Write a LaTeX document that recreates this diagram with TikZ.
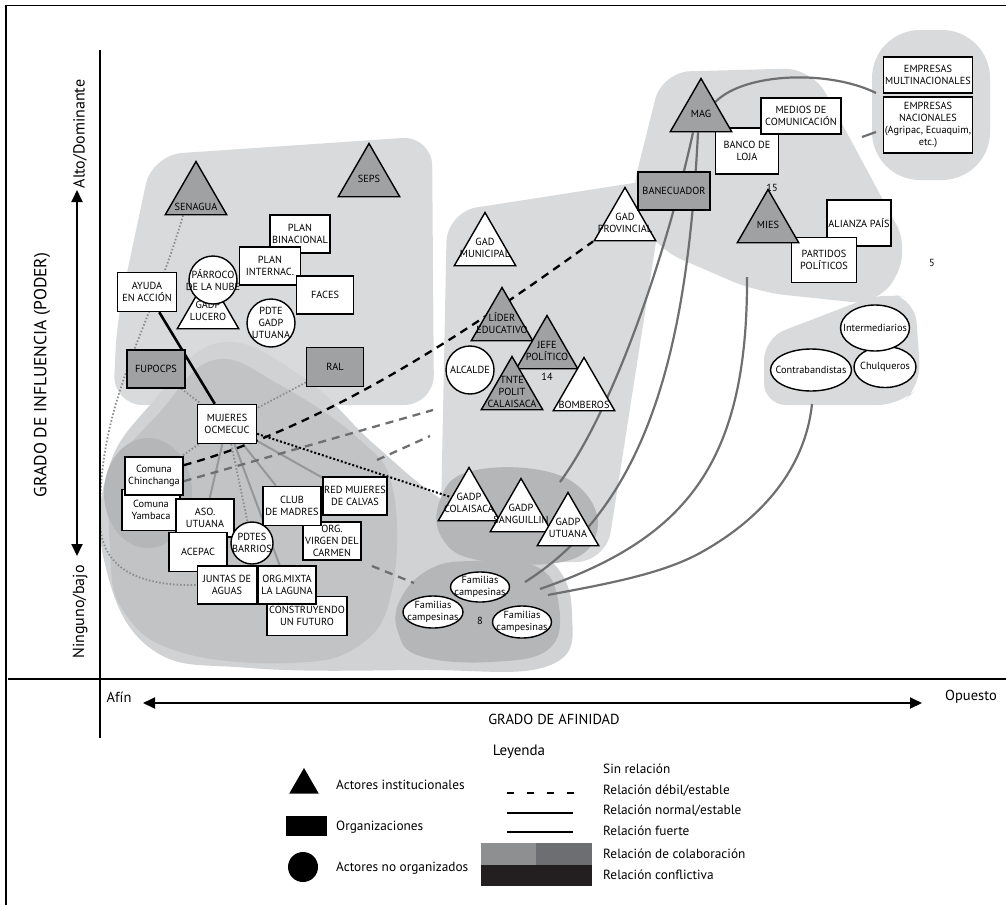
\documentclass[tikz,border=0pt]{standalone}
\usepackage{fontspec}
\setmainfont{PT Sans}
\usetikzlibrary{shapes.geometric, arrows.meta}
\definecolor{blobgray}{RGB}{217,218,219}
\definecolor{bandgray}{RGB}{209,210,212}
\definecolor{midgray}{RGB}{194,195,197}
\definecolor{darkblob}{RGB}{181,182,184}
\definecolor{actgray}{RGB}{160,161,163}
\definecolor{linegray}{RGB}{110,111,113}
\definecolor{softline}{RGB}{150,151,153}
\definecolor{dotgray}{RGB}{138,139,141}
\definecolor{colabA}{RGB}{142,143,145}
\definecolor{colabB}{RGB}{109,110,113}
\definecolor{conflict}{RGB}{35,31,32}
\pgfdeclarelayer{blobs}
\pgfdeclarelayer{links}
\pgfsetlayers{blobs,links,main}
\newcommand{\nodefont}{\fontsize{10.3}{11.7}\selectfont}
\tikzset{
  lab/.style={align=center, inner sep=0pt, font=\nodefont},
  org/.style={draw, line width=1.4pt, fill=white, align=center, inner sep=1pt, font=\nodefont, minimum width=58pt, minimum height=38pt},
  orgd/.style={org, fill=actgray},
  tri/.style={regular polygon, regular polygon sides=3, draw, line width=1.4pt, fill=white, inner sep=0pt, minimum size=71pt, label={[lab]center:#1}},
  trid/.style={tri={#1}, fill=actgray},
  ind/.style={circle, draw, line width=1.4pt, fill=white, inner sep=0pt, minimum size=48pt, label={[lab]center:#1}},
  fam/.style={ellipse, draw, line width=1.4pt, fill=white, inner sep=0pt, label={[lab]center:#1}},
  legtext/.style={anchor=west, inner sep=0pt, font=\fontsize{13.3}{16}\selectfont},
  fuerte/.style={line width=2.6pt},
  normal/.style={line width=2.2pt, linegray},
  suave/.style={line width=2pt, softline},
  debil/.style={line width=2.3pt, dash pattern=on 8pt off 6pt},
  sinrel/.style={line width=1.8pt, dotgray, dash pattern=on 1.5pt off 2pt},
  sinreln/.style={line width=2pt, dash pattern=on 2pt off 2pt},
}
\begin{document}
\begin{tikzpicture}[x=1pt, y=-1pt]
\useasboundingbox (0,0) rectangle (1006,905);

% top-left group
\node[trid={}, label={[lab,yshift=-10pt]center:SENAGUA}] (senagua) at (196,197) {};
\node[trid=SEPS] (seps) at (369,179) {};
\node[org, minimum width=60pt] (planbin) at (300,234) {PLAN\\BINACIONAL};
\node[org, minimum width=61pt] (planint) at (270,266) {PLAN\\INTERNAC.};
\node[org, minimum width=57pt] (faces) at (325,295) {FACES};
\node[org, minimum width=59pt, minimum height=39pt] (ayuda) at (147,292) {AYUDA\\EN ACCIÓN};
\node[tri={GADP\\LUCERO}] (lucero) at (208,311) {};
\node[ind={PÁRROCO\\DE LA NUBE}] (parroco) at (213,280) {};
\node[ind={PDTE\\GADP\\UTUANA}] (pdtegadp) at (271,323) {};
\node[orgd] (fupocps) at (156,369) {FUPOCPS};
\node[orgd, minimum width=57pt, minimum height=39pt] (ral) at (335,367) {RAL};

% lower-left group
\node[org, minimum width=59pt, minimum height=39pt] (mujeres) at (227,424) {MUJERES\\OCMECUC};
\node[org, minimum height=41pt] (yambaca) at (151,510) {Comuna\\Yambaca};
\node[org] (chinchanga) at (154,476) {Comuna\\Chinchanga};
\node[org] (asoutuana) at (205,518) {ASO.\\UTUANA};
\node[org, minimum height=39pt] (acepac) at (198,552) {ACEPAC};
\node[org, minimum width=80pt, minimum height=39pt] (construyendo) at (307,616) {CONSTRUYENDO\\UN FUTURO};
\node[org, minimum width=59pt] (juntas) at (227,585) {JUNTAS DE\\AGUAS};
\node[org] (orgmixta) at (287,585) {ORG.MIXTA\\LA LAGUNA};
\node[ind={PDTES\\BARRIOS}, minimum size=42pt] (pdtes) at (252,543) {};
\node[org] (virgen) at (332,541) {ORG.\\VIRGEN DEL\\CARMEN};
\node[org, minimum height=39pt] (club) at (292,506) {CLUB\\DE MADRES};
\node[org, minimum width=64pt] (redmuj) at (355,496) {RED MUJERES\\DE CALVAS};

% middle group
\node[tri={GAD\\MUNICIPAL}] (gadmun) at (485,248) {};
\node[tri={GAD\\PROVINCIAL}] (gadprov) at (625,223) {};
\node[trid={LÍDER\\EDUCATIVO}] (lider) at (502,323) {};
\node[trid={JEFE\\POLÍTICO}] (jefe) at (547,351) {};
\node[lab] (n14) at (547,377) {14};
\node[ind=ALCALDE] (alcalde) at (470,370) {};
\node[trid={TNTE\\POLIT\\CALAISACA}] (tnte) at (512,392) {};
\node[tri={}, label={[lab,yshift=-12pt]center:BOMBEROS}] (bomberos) at (584,393) {};
\node[tri={GADP\\COLAISACA}] (gadpcol) at (469,503) {};
\node[tri={GADP\\SANGUILLIN}] (gadpsan) at (521,514) {};
\node[tri={GADP\\UTUANA}] (gadputu) at (568,528) {};

% familias
\node[fam={Familias\\campesinas}, minimum width=59pt, minimum height=30pt] (fam1) at (480,587) {};
\node[fam={Familias\\campesinas}, minimum width=60pt, minimum height=32pt] (fam2) at (433,612) {};
\node[fam={Familias\\campesinas}, minimum width=59pt, minimum height=32pt] (fam3) at (522,622) {};
\node[lab] (n8) at (480,621) {8};

% right group
\node[org, minimum width=63pt, minimum height=46pt] (bancoloja) at (747,151) {BANCO DE\\LOJA};
\node[org, minimum width=80pt, minimum height=36pt] (medios) at (801,116) {MEDIOS DE\\COMUNICACIÓN};
\node[trid=MAG] (mag) at (701,114) {};
\node[orgd, minimum width=72pt] (banecuador) at (674,191) {BANECUADOR};
\node[lab] (n15) at (772,188) {15};
\node[org, minimum width=64pt, minimum height=46pt] (alianza) at (859,223) {ALIANZA PAÍS};
\node[org, minimum width=65pt, minimum height=45pt] (partidos) at (824,260) {PARTIDOS\\POLÍTICOS};
\node[trid=MIES] (mies) at (768,225) {};
\node[lab] (n5) at (932,263) {5};
\node[org, minimum width=89pt, minimum height=36pt, inner sep=0pt] (multi) at (928,75) {EMPRESAS\\MULTINACIONALES};
\node[org, minimum width=89pt, minimum height=56pt, inner sep=0pt] (nacionales) at (928,125) {EMPRESAS\\NACIONALES\\(Agripac, Ecuaquim,\\etc.)};

% intermediarios
\node[fam=Chulqueros, minimum width=62pt, minimum height=41pt] (chulq) at (885,367) {};
\node[fam=Intermediarios, minimum width=69pt, minimum height=46pt] (interm) at (875,328) {};
\node[fam=Contrabandistas, minimum width=81pt, minimum height=42pt] (contra) at (811,370) {};

% free ends
\coordinate (dashA) at (433,410);
\coordinate (dashB) at (377,460);
\coordinate (dashC) at (430,436);
\coordinate (dashD) at (372,566);
\coordinate (dashE) at (414,583);
\coordinate (empA) at (876,93);
\coordinate (stubA) at (862,137);
\coordinate (empB) at (876,132);
\coordinate (gadpB) at (560,482);
\coordinate (famB1) at (525,582);
\coordinate (famB2) at (540,589);
\coordinate (famB3) at (548,595);
\coordinate (miesB) at (747,277);
\coordinate (intB) at (812,404);

\begin{pgfonlayer}{links}
\draw[fuerte] (ayuda) -- (mujeres);
\draw[sinrel] ([xshift=-13pt]senagua.south) .. controls (150,330) and (98,400) .. (100,520) .. controls (100,575) and (150,586) .. (juntas.west);
\draw[sinrel] (fupocps) -- (mujeres);
\draw[sinrel] (ral) -- (mujeres);
\draw[sinrel] (mujeres) -- (chinchanga);
\draw[sinrel] (mujeres) -- (pdtes);
\draw[suave] (mujeres) -- (asoutuana);
\draw[suave] (mujeres) -- (orgmixta);
\draw[suave] (mujeres) -- (club);
\draw[suave] (mujeres) -- (redmuj);
\draw[sinreln] (mujeres) -- (gadpcol);
\draw[debil] (chinchanga.20) .. controls (330,425) and (470,330) .. (gadprov.corner 2);
\draw[debil, linegray] (chinchanga.-10) -- (dashA);
\draw[debil, linegray] (dashB) -- (dashC);
\draw[debil, linegray] (dashD) -- (dashE);
\draw[normal] (mag.40) .. controls (745,72) and (830,70) .. (empA);
\draw[normal] (stubA) -- (empB);
\draw[normal] ([xshift=-8pt]mag.south) .. controls (672,230) and (620,400) .. (gadpB);
\draw[normal] ([xshift=-3pt]mag.south) .. controls (688,330) and (655,500) .. (famB1);
\draw[normal] (miesB) .. controls (748,470) and (680,540) .. (famB2);
\draw[normal] (intB) .. controls (805,470) and (760,520) .. (700,553) .. controls (660,575) and (600,585) .. (famB3);
\end{pgfonlayer}

\begin{pgfonlayer}{blobs}
\fill[blobgray, rounded corners=30pt] (113,405) -- (117,320) -- (152,155) -- (432,136) -- (434,405) -- cycle;
\fill[blobgray, rounded corners=30pt] (440,562) -- (447,212) -- (666,178) -- (606,562) -- cycle;
\fill[blobgray, rounded corners=28pt] (630,200) -- (662,72) -- (812,68) -- (910,250) -- (880,305) -- (757,292) -- (655,248) -- cycle;
\fill[blobgray, rounded corners=48pt] (872,30) rectangle (990,180);
\fill[blobgray, rounded corners=22pt] (764,405) -- (764,338) -- (884,292) -- (915,300) -- (921,385) -- (900,405) -- cycle;
\fill[bandgray] plot[smooth cycle, tension=0.7] coordinates {(104,560) (108,470) (150,405) (218,343) (300,375) (375,445) (447,503) (545,555) (572,615) (548,666) (420,670) (250,668) (150,648)};
\fill[midgray] plot[smooth cycle, tension=0.7] coordinates {(110,550) (116,470) (160,412) (214,360) (280,385) (360,440) (393,490) (392,590) (360,645) (290,663) (180,652) (124,612)};
\fill[darkblob] (148,493) ellipse [x radius=44pt, y radius=55pt];
\fill[darkblob] plot[smooth cycle, tension=0.7] coordinates {(440,500) (468,472) (540,470) (586,494) (596,535) (562,562) (478,560) (442,538)};
\fill[darkblob] plot[smooth cycle, tension=0.7] coordinates {(400,600) (428,570) (470,561) (535,566) (558,600) (550,648) (490,662) (420,656) (398,632)};
\end{pgfonlayer}

% frame and axes
\draw[line width=1.3pt] (6,905) -- (6,5.5) -- (1006,5.5);
\draw[line width=2pt] (100,50) -- (100,738);
\draw[line width=2pt] (8,679) -- (1006,679);
\draw[line width=1.8pt, {Triangle[length=12pt,width=11pt]}-{Triangle[length=12pt,width=11pt]}] (77,190) -- (77,556);
\draw[line width=1.8pt, {Triangle[length=12pt,width=11pt]}-{Triangle[length=12pt,width=11pt]}] (143,703) -- (922,703);
\node[rotate=90, font=\fontsize{17.5}{20}\selectfont] (ejey) at (42,375) {GRADO DE INFLUENCIA (PODER)};
\node[rotate=90, font=\fontsize{16}{19}\selectfont] (alto) at (80,134) {Alto/Dominante};
\node[rotate=90, font=\fontsize{16}{19}\selectfont] (ninguno) at (80,612) {Ninguno/bajo};
\node[font=\fontsize{14.5}{17}\selectfont] (afin) at (119,697) {Afín};
\node[font=\fontsize{14.5}{17}\selectfont] (opuesto) at (971,697) {Opuesto};
\node[font=\fontsize{14.5}{17}\selectfont] (ejex) at (554,719) {GRADO DE AFINIDAD};

% legend
\node[font=\fontsize{15}{18}\selectfont] (leyenda) at (519,752) {Leyenda};
\node[regular polygon, regular polygon sides=3, fill=black, inner sep=0pt, minimum size=34pt] (legtri) at (304,785) {};
\node[fill=black, inner sep=0pt, minimum width=41pt, minimum height=20pt] (legrect) at (306,826) {};
\node[circle, fill=black, inner sep=0pt, minimum size=30pt] (legcirc) at (303,867) {};
\node[legtext] (legt1) at (336,785) {Actores institucionales};
\node[legtext] (legt2) at (336,827) {Organizaciones};
\node[legtext] (legt3) at (336,868) {Actores no organizados};
\draw[line width=1.8pt, dash pattern=on 7pt off 13pt] (507,793) -- (575,793);
\draw[line width=1.5pt] (507,813) -- (573,813);
\draw[line width=2.7pt] (507,832) -- (573,832);
\fill[colabA] (481,843) rectangle (536,865);
\fill[colabB] (536,843) rectangle (592,865);
\fill[conflict] (481,865) rectangle (592,886);
\node[legtext] (legr1) at (603,769) {Sin relación};
\node[legtext] (legr2) at (603,791) {Relación débil/estable};
\node[legtext] (legr3) at (603,811) {Relación normal/estable};
\node[legtext] (legr4) at (603,831) {Relación fuerte};
\node[legtext] (legr5) at (603,854) {Relación de colaboración};
\node[legtext] (legr6) at (603,875) {Relación conflictiva};
\end{tikzpicture}
\end{document}
